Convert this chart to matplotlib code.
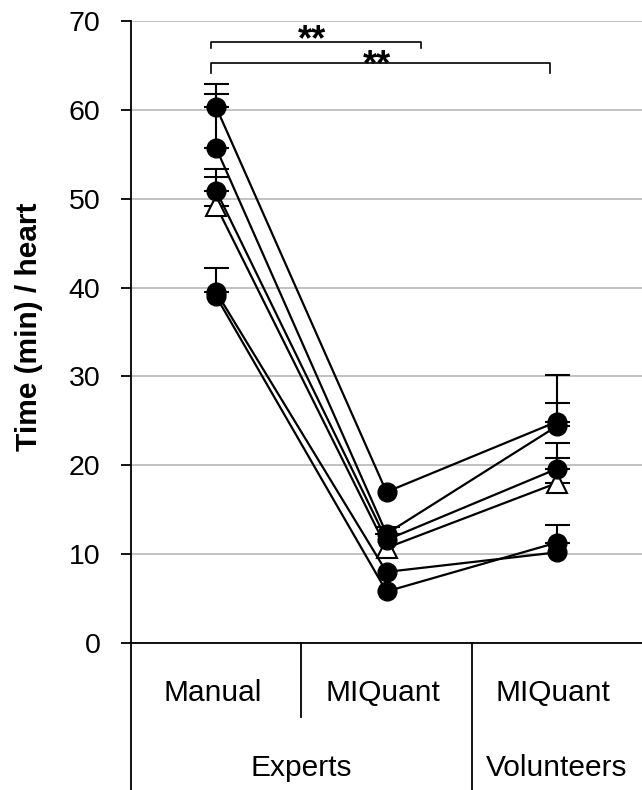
import matplotlib
matplotlib.use("Agg")
import matplotlib.pyplot as plt

plt.rcParams["font.family"] = ["Liberation Sans", "DejaVu Sans"]

# x positions: Experts/Manual, Experts/MIQuant, Volunteers/MIQuant
groups = [1, 2, 3]
method_labels = ["Manual", "MIQuant", "MIQuant"]
user_labels = ["Experts", "Volunteers"]

# one list per heart (five dots + the triangle series)
heart_a = [60.3, 17.0, 24.9]
heart_b = [55.7, 12.3, 24.4]
heart_c = [50.9, 11.6, 19.6]
heart_d = [49.2, 10.7, 18.0]   # open triangle
heart_e = [39.5, 8.0, 10.2]
heart_f = [39.0, 5.8, 11.3]

# upper error bars (0 where the bar is hidden by the marker)
err_a = [1.5, 0.0, 5.3]
err_b = [7.2, 0.8, 2.6]
err_c = [2.4, 0.0, 2.9]
err_d = [3.2, 0.0, 2.8]
err_e = [2.7, 0.0, 0.0]
err_f = [0.0, 0.0, 2.0]

dot_series = [(heart_a, err_a), (heart_b, err_b), (heart_c, err_c),
              (heart_e, err_e), (heart_f, err_f)]

# significance brackets: (x start, x end, y line, y tick end, star y)
brackets = [(0.97, 2.20, 67.6, 67.0, 66.7),
            (0.97, 2.96, 65.3, 64.1, 63.9)]

W, H = 642, 790
fig = plt.figure(figsize=(W / 100, H / 100), dpi=100)
ax_l, ax_r, ax_t, ax_b = 131, 642, 21, 643
ax = fig.add_axes([ax_l / W, 1 - ax_b / H, (ax_r - ax_l) / W, (ax_b - ax_t) / H])


def draw(vals, err, **kw):
    # plus-only error bars, skipping the hidden ones
    xs = [x for x, e in zip(groups, err) if e > 0]
    ys = [v for v, e in zip(vals, err) if e > 0]
    es = [e for e in err if e > 0]
    z = kw.pop("zorder")
    ax.errorbar(xs, ys, yerr=[[0] * len(es), es], fmt="none", ecolor="black",
                capsize=9, capthick=1.5, elinewidth=1.5, zorder=z - 0.5)
    ax.plot(groups, vals, color="black", lw=1.6, zorder=z, **kw)


# triangle series first so the dots sit on top of it
draw(heart_d, err_d, marker="^", ms=14.5, mfc="white", mec="black", mew=1.5,
     zorder=3)
for vals, err in dot_series:
    draw(vals, err, marker="o", ms=13.5, mfc="black", mec="black", zorder=4)

ax.set_xlim(0.5, 3.5)
ax.set_ylim(0, 70)
ax.set_yticks(range(0, 71, 10))
ax.set_xticks([])
ax.yaxis.grid(True, color="#bdbdbd", lw=1.3)
ax.set_axisbelow(True)
for s in ["top", "right"]:
    ax.spines[s].set_visible(False)
for s in ["left", "bottom"]:
    ax.spines[s].set_linewidth(1.3)
ax.tick_params(axis="y", direction="out", length=7, width=1.3, pad=15,
               labelsize=20.5)
ax.set_ylabel("Time (min) / heart", fontsize=21.5, fontweight="bold")
ax.yaxis.set_label_coords(-0.172, 0.508)

# brackets with stars
for x0, x1, yl, yt, ys in brackets:
    ax.plot([x0, x0, x1, x1], [yt, yl, yl, yt], color="black", lw=1.2,
            clip_on=False, zorder=5)
    ax.text((x0 + x1) / 2 - 0.02, ys, "**", ha="center", va="baseline",
            fontsize=26, fontweight="bold", zorder=5)

# category table under the axis
tr = ax.get_xaxis_transform()
ax_h = ax_b - ax_t
fig_bottom = -(H - ax_b) / ax_h
row_split = -(717 - ax_b) / ax_h
ax.plot([0.5, 0.5], [0, fig_bottom], color="black", lw=1.3, transform=tr,
        clip_on=False)
ax.plot([1.5, 1.5], [0, row_split], color="black", lw=1.3, transform=tr,
        clip_on=False)
ax.plot([2.5, 2.5], [0, fig_bottom], color="black", lw=1.3, transform=tr,
        clip_on=False)

row1_y = -(693 - ax_b) / ax_h
row2_y = -(768 - ax_b) / ax_h
for x, lab in zip(groups, method_labels):
    ax.text(x - 0.02, row1_y, lab, transform=tr, ha="center", va="center",
            fontsize=21.5)
ax.text(1.5, row2_y, user_labels[0], transform=tr, ha="center", va="center",
        fontsize=21.5)
ax.text(3.0, row2_y, user_labels[1], transform=tr, ha="center", va="center",
        fontsize=21.5)

fig.savefig("out.png", dpi=100)
